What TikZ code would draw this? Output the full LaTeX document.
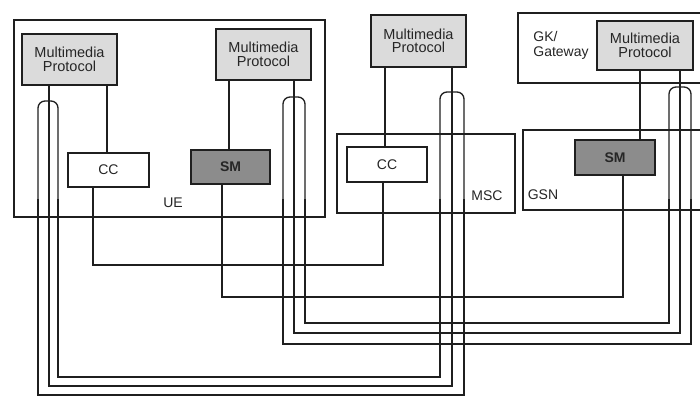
\documentclass[tikz,border=0pt]{standalone}
\usepackage{fontspec}
\setmainfont{Liberation Sans}
\begin{document}
\begin{tikzpicture}[x=1pt,y=-1pt,line width=1.3pt,color=black!88,
  every node/.style={font=\fontsize{14}{14}\selectfont, text=black!85},
  mp/.style={draw, fill=black!14, inner sep=0pt, align=center, font=\fontsize{14.5}{13.5}\selectfont},
  ccbox/.style={draw, fill=white, inner sep=0pt},
  smbox/.style={draw, fill=black!45, inner sep=0pt, font=\fontsize{14}{14}\selectfont\bfseries},
  lbl/.style={inner sep=0pt, align=left}]
\useasboundingbox (0,0) rectangle (700,398);
\fill[white] (0,0) rectangle (700,398);
% container boxes
\draw (14,20) rectangle (325,217);
\draw (337,134) rectangle (515,213);
\draw (700,13) -- (518,13) -- (518,83) -- (700,83);
\draw (700,130) -- (523,130) -- (523,210) -- (700,210);
% labels
\node[lbl] (ue) at (173,203) {UE};
\node[lbl] (msc) at (487,196) {MSC};
\node[lbl] (gsn) at (543,195) {GSN};
\node[lbl, font=\fontsize{14}{15}\selectfont] (gk) at (561,45) {GK/\\Gateway};
% tubes: caps and walls
\draw[rounded corners=7pt] (38,200) -- (38,101) -- (58,101) -- (58,200);
\draw[rounded corners=7pt] (283,200) -- (283,97) -- (305,97) -- (305,200);
\draw[rounded corners=7pt] (440,200) -- (440,92) -- (464,92) -- (464,200);
\draw[rounded corners=7pt] (669,200) -- (669,87) -- (691,87) -- (691,200);
\draw (38,199) -- (38,395) -- (464,395) -- (464,199);
\draw (58,199) -- (58,377) -- (440,377) -- (440,199);
\draw (283,199) -- (283,344) -- (691,344) -- (691,199);
\draw (305,199) -- (305,323) -- (669,323) -- (669,199);
% protocol boxes
\node[mp, minimum width=95pt, minimum height=51pt] (mp1) at (69.5,59.5) {Multimedia\\Protocol};
\node[mp, minimum width=95pt, minimum height=51pt] (mp2) at (263.5,54.5) {Multimedia\\Protocol};
\node[mp, minimum width=95pt, minimum height=52pt] (mp3) at (418.5,41) {Multimedia\\Protocol};
\node[mp, minimum width=96pt, minimum height=49pt] (mp4) at (645,45.5) {Multimedia\\Protocol};
\node[ccbox, minimum width=81pt, minimum height=34pt] (cc1) at (108.5,170) {CC};
\node[smbox, minimum width=79pt, minimum height=34pt] (sm1) at (230.5,167) {SM};
\node[ccbox, minimum width=80pt, minimum height=35pt] (cc2) at (387,164.5) {CC};
\node[smbox, minimum width=80pt, minimum height=35pt] (sm2) at (615,157.5) {SM};
% coordinates
\coordinate (a1) at (107,0);
\coordinate (a2) at (229,0);
\coordinate (a3) at (385,0);
\coordinate (a4) at (640,0);
\coordinate (i1) at (49,386);
\coordinate (i3) at (452,386);
\coordinate (i2) at (294,333);
\coordinate (i4) at (680,333);
\coordinate (c1) at (93,265);
\coordinate (c2) at (383,265);
\coordinate (s1) at (222,297);
\coordinate (s2) at (623,297);
% vertical links protocol -> CC/SM
\draw (mp1.south -| a1) -- (cc1.north -| a1);
\draw (mp2.south -| a2) -- (sm1.north -| a2);
\draw (mp3.south -| a3) -- (cc2.north -| a3);
\draw (mp4.south -| a4) -- (sm2.north -| a4);
% peer links
\draw (cc1.south -| c1) -- (c1) -- (c2) -- (cc2.south -| c2);
\draw (sm1.south -| s1) -- (s1) -- (s2) -- (sm2.south -| s2);
\draw (mp1.south -| i1) -- (i1) -- (i3) -- (mp3.south -| i3);
\draw (mp2.south -| i2) -- (i2) -- (i4) -- (mp4.south -| i4);
\end{tikzpicture}
\end{document}
